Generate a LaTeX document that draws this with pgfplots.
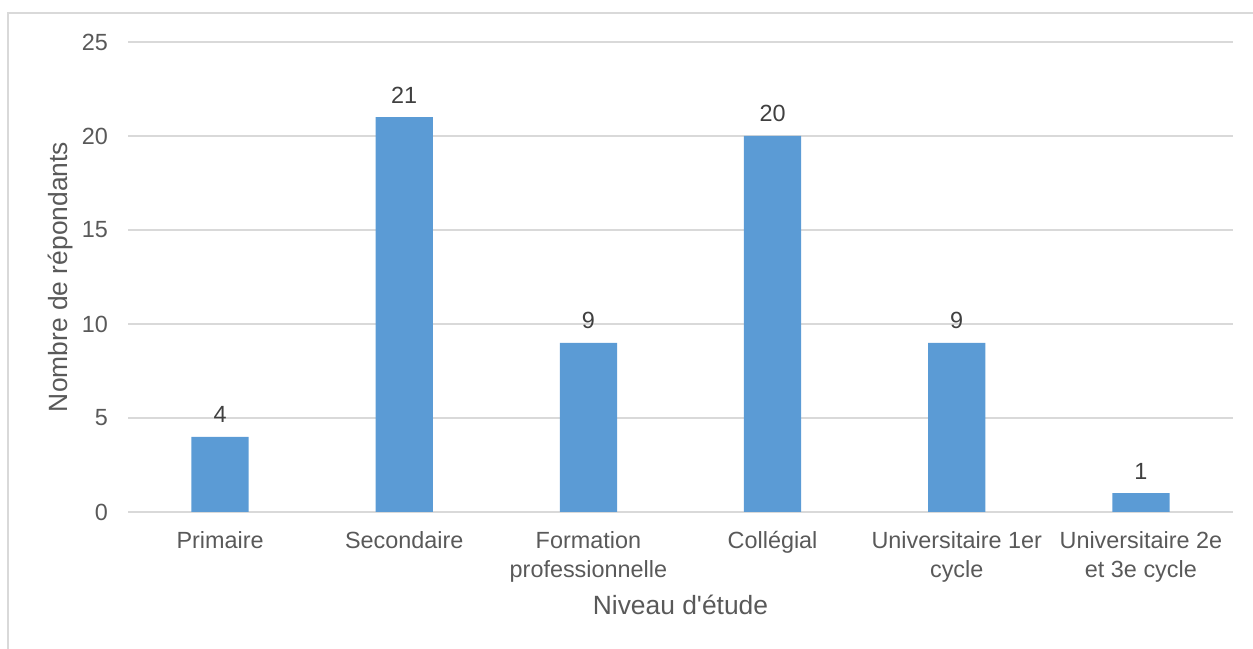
\documentclass[border=0pt]{standalone}
\usepackage{fontspec}
\setmainfont{Liberation Sans}
\usepackage{pgfplots}
\pgfplotsset{compat=1.18}
\definecolor{barblue}{HTML}{5B9BD5}
\definecolor{gridgray}{HTML}{D9D9D9}
\definecolor{txtgray}{HTML}{595959}
\definecolor{lblgray}{HTML}{404040}

\begin{document}
\begin{tikzpicture}
% 1 px of the reference = 0.5pt
\useasboundingbox (0,0) rectangle (626.5pt,324pt);
\draw[gridgray, line width=0.8pt] (4pt,-5pt) rectangle (640pt,317.5pt);
\begin{axis}[
  at={(64pt,68pt)}, anchor=south west,
  scale only axis, width=552.5pt, height=235pt,
  xmin=-0.5, xmax=5.5, ymin=0, ymax=25,
  xtick={0,1,2,3,4,5},
  xticklabels={Primaire, Secondaire, {Formation\\professionnelle}, Collégial,
    {Universitaire 1er\\cycle}, {Universitaire 2e\\et 3e cycle}},
  ytick={0,5,10,15,20,25},
  major tick length=0pt,
  axis line style={draw=none},
  ymajorgrids, grid style={gridgray, line width=0.6pt},
  /pgf/number format/assume math mode=true,
  tick label style={font=\fontsize{11.7}{14.5}\selectfont, text=txtgray},
  x tick label style={align=center, anchor=north, yshift=-6pt},
  y tick label style={anchor=east, xshift=-6.5pt},
  label style={font=\fontsize{13.2}{16}\selectfont, text=txtgray},
  xlabel={Niveau d\textquotesingle étude},
  ylabel={Nombre de répondants},
  xlabel style={at={(axis description cs:0.5,-0.198)}, anchor=center},
  ylabel style={at={(axis description cs:-0.0615,0.5)}, anchor=center},
  nodes near coords,
  nodes near coords style={font=\fontsize{11.7}{14}\selectfont, text=lblgray,
    anchor=south, yshift=3.4pt},
]
\addplot[ybar, bar width=28.6pt, fill=barblue, draw=none] coordinates {
  (0,4) (1,21) (2,9) (3,20) (4,9) (5,1)};
\end{axis}
\end{tikzpicture}
\end{document}
